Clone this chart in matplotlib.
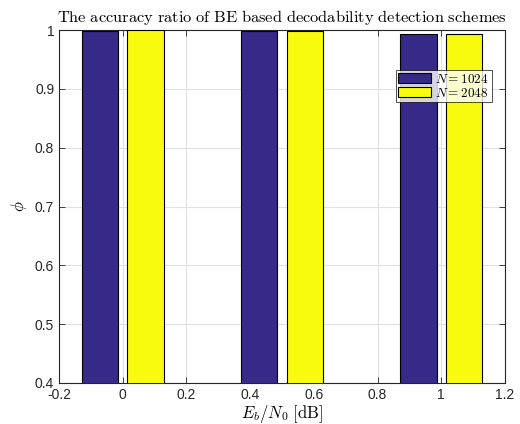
import matplotlib
matplotlib.use("Agg")
import matplotlib.pyplot as plt
import numpy as np

plt.rcParams['mathtext.fontset'] = 'cm'
plt.rcParams['font.family'] = ['Liberation Sans', 'DejaVu Sans']

x_vals = [0.0, 0.5, 1.0]
series_names = [r'$N\mathrm{=1024}$', r'$N\mathrm{=2048}$']
n1024 = [0.998, 0.998, 0.993]
n2048 = [0.9995, 0.999, 0.993]
colors = ['#352a87', '#f9fb0e']
xticks = [-0.2, 0, 0.2, 0.4, 0.6, 0.8, 1, 1.2]
xtick_labels = ['-0.2', '0', '0.2', '0.4', '0.6', '0.8', '1', '1.2']
yticks = [0.4, 0.5, 0.6, 0.7, 0.8, 0.9, 1]
ytick_labels = ['0.4', '0.5', '0.6', '0.7', '0.8', '0.9', '1']

fig = plt.figure(figsize=(5.2, 4.24), dpi=100)
ax = fig.add_axes([59/520, 1-383/424, 446/520, 353/424])

spacing = 0.5
gw = 2/3.5
bw = 0.8 * gw / 2 * spacing
offs = np.array([-1, 1]) * gw / 4 * spacing
x = np.array(x_vals)
for i, (vals, c, name) in enumerate(zip([n1024, n2048], colors, series_names)):
    ax.bar(x + offs[i], vals, width=bw, color=c, edgecolor='black', linewidth=0.8, label=name, zorder=3)

ax.set_xlim(-0.2, 1.2)
ax.set_ylim(0.4, 1.0)
ax.set_xticks(xticks)
ax.set_xticklabels(xtick_labels)
ax.set_yticks(yticks)
ax.set_yticklabels(ytick_labels)
ax.grid(True, color='#e0e0e0', linewidth=0.8, zorder=0)
ax.set_axisbelow(True)
ax.tick_params(direction='in', top=True, right=True, labelsize=10, colors='#262626', length=4, width=0.6)
for s in ax.spines.values():
    s.set_color('#262626')
    s.set_linewidth(0.8)

ax.set_title(r'$\mathrm{The\ accuracy\ ratio\ of\ BE\ based\ decodability\ detection\ schemes}$', fontsize=11.8, pad=6)
ax.set_xlabel(r'$E_b/N_0\ [\mathrm{dB}]$', fontsize=12, labelpad=1)
ax.set_ylabel(r'$\phi$', fontsize=12, labelpad=4)

leg = ax.legend(loc='upper right', bbox_to_anchor=(0.97, 0.887), fontsize=9.5, frameon=True, fancybox=False,
                edgecolor='black', handlelength=2.5, handleheight=0.8, borderpad=0.2, labelspacing=0.1,
                handletextpad=0.3, borderaxespad=0)
leg.get_frame().set_linewidth(0.6)

fig.savefig('out.png', dpi=100)
